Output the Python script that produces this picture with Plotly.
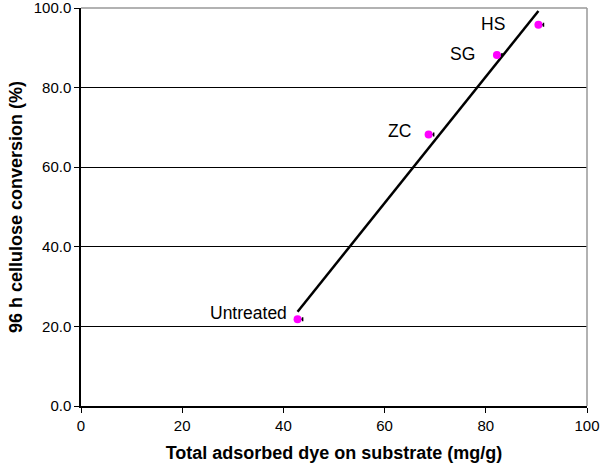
import numpy as np
import plotly.graph_objects as go

# Data
labels = ["Untreated", "ZC", "SG", "HS"]
dye_adsorbed = [42.8, 68.7, 82.2, 90.4]        # mg/g
conversion = [21.8, 68.2, 88.2, 95.8]           # %
dye_error = [1.0, 1.0, 1.0, 1.0]

# Linear trendline through the points
slope, intercept = np.polyfit(dye_adsorbed, conversion, 1)
line_x = [min(dye_adsorbed), max(dye_adsorbed)]
line_y = [slope * v + intercept for v in line_x]

FONT = "Liberation Sans, Arial, sans-serif"

fig = go.Figure()

fig.add_trace(go.Scatter(
    x=line_x, y=line_y, mode="lines",
    line=dict(color="black", width=2.5),
    hoverinfo="skip", showlegend=False,
))

fig.add_trace(go.Scatter(
    x=dye_adsorbed, y=conversion, mode="markers",
    marker=dict(color="#FF00FF", size=8, symbol="circle"),
    error_x=dict(type="data", symmetric=False, array=dye_error,
                 arrayminus=[0] * len(dye_error),
                 color="black", thickness=1.5, width=2),
    showlegend=False,
))

# label offsets in pixels (xshift, yshift), anchored at right edge of text
label_offsets = {"Untreated": (-9, 6), "ZC": (-16, 4), "SG": (-20, 1), "HS": (-31, 1)}
for name, xv, yv in zip(labels, dye_adsorbed, conversion):
    dx, dy = label_offsets[name]
    fig.add_annotation(
        x=xv, y=yv, text=name, showarrow=False,
        xanchor="right", yanchor="middle", xshift=dx, yshift=dy,
        font=dict(family=FONT, size=17.5, color="black"),
    )

# gray plot-area frame (top and right)
fig.add_shape(type="line", xref="paper", yref="paper", x0=0, x1=1, y0=1, y1=1,
              line=dict(color="#999999", width=1.5), layer="above")
fig.add_shape(type="line", xref="paper", yref="paper", x0=1, x1=1, y0=0, y1=1,
              line=dict(color="#999999", width=1.5), layer="above")

fig.update_layout(
    width=600, height=471, autosize=False,
    margin=dict(l=81, r=13, t=8, b=65, autoexpand=False),
    paper_bgcolor="white", plot_bgcolor="white",
    font=dict(family=FONT, size=15, color="black"),
    showlegend=False,
)

fig.update_xaxes(
    range=[0, 100], tickvals=[0, 20, 40, 60, 80, 100],
    showgrid=False, zeroline=False, automargin=False,
    showline=True, linecolor="black", linewidth=1.5,
    ticks="outside", ticklen=5, tickcolor="black", tickwidth=1,
    tickfont=dict(family=FONT, size=15), ticklabeloverflow="allow",
    title=dict(text="<b>Total adsorbed dye on substrate (mg/g)</b>",
               font=dict(family=FONT, size=18), standoff=14),
)
fig.update_yaxes(
    range=[0, 100], tickvals=[0, 20, 40, 60, 80, 100], tickformat=".1f",
    showgrid=True, gridcolor="black", gridwidth=1,
    zeroline=False, automargin=False,
    showline=True, linecolor="black", linewidth=1.5,
    ticks="outside", ticklen=5, tickcolor="black", tickwidth=1,
    tickfont=dict(family=FONT, size=15), ticklabeloverflow="allow",
    title=dict(text="<b>96 h cellulose conversion (%)</b>",
               font=dict(family=FONT, size=18), standoff=6),
)

fig.write_html(
    "out.html",
    config={"displayModeBar": False, "responsive": False},
    post_script=("document.documentElement.style.overflow='hidden';"
                 "document.body.style.overflow='hidden';"
                 "document.body.style.margin='0';document.body.style.padding='0';"),
)
